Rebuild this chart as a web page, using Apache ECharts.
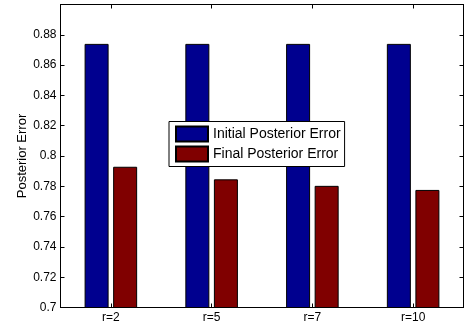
<!DOCTYPE html>
<html>
<head>
<meta charset="utf-8">
<script src="https://cdn.jsdelivr.net/npm/echarts@6/dist/echarts.min.js"></script>
<style>html,body{margin:0;padding:0;background:#fff;}#c{width:466px;height:327px;}</style>
</head>
<body>
<div id="c"></div>
<script>
var categories = ['r=2', 'r=5', 'r=7', 'r=10'];
var initialError = [0.874, 0.874, 0.874, 0.874];
var finalError = [0.7929, 0.7846, 0.7803, 0.7776];
var yMin = 0.7, yMax = 0.9, yStep = 0.02;
var seriesNames = ['Initial Posterior Error', 'Final Posterior Error'];
var yName = 'Posterior Error';

var FONT = 'Liberation Sans, Arial, Helvetica, sans-serif';
var chart = echarts.init(document.getElementById('c'));
var axisLine = { show: true, onZero: false, lineStyle: { color: '#000', width: 1 } };
chart.setOption({
  animation: false,
  backgroundColor: '#fff',
  grid: { left: 60.5, right: 2.5, top: 4.5, bottom: 19.5, containLabel: false },
  legend: {
    orient: 'vertical',
    left: 169, top: 121.5,
    padding: [4, 4, 4, 6],
    icon: 'rect',
    itemWidth: 32, itemHeight: 15, itemGap: 3,
    backgroundColor: '#fff',
    borderColor: '#000', borderWidth: 1, borderRadius: 0,
    textStyle: { fontFamily: FONT, fontSize: 14, color: '#000' },
    data: seriesNames
  },
  xAxis: [{
    type: 'category', data: categories, position: 'bottom', boundaryGap: true,
    axisLine: axisLine,
    axisTick: { show: true, inside: true, alignWithLabel: true, length: 4, lineStyle: { color: '#000' } },
    axisLabel: { fontFamily: FONT, fontSize: 12, color: '#000', margin: 4 },
    splitLine: { show: false }
  }, {
    type: 'category', data: categories, position: 'top', boundaryGap: true,
    axisLine: axisLine,
    axisTick: { show: true, inside: true, alignWithLabel: true, length: 4, lineStyle: { color: '#000' } },
    axisLabel: { show: false }, splitLine: { show: false }
  }],
  yAxis: [{
    type: 'value', min: yMin, max: yMax, interval: yStep, position: 'left',
    name: yName, nameLocation: 'middle', nameGap: 32, nameRotate: 90,
    nameMoveOverlap: false,
    nameTextStyle: { fontFamily: FONT, fontSize: 13, color: '#000' },
    axisLine: axisLine,
    axisTick: { show: true, inside: true, length: 4, lineStyle: { color: '#000' } },
    axisLabel: { fontFamily: FONT, fontSize: 12, color: '#000', margin: 4, showMaxLabel: false },
    splitLine: { show: false }
  }, {
    type: 'value', min: yMin, max: yMax, interval: yStep, position: 'right',
    axisLine: axisLine,
    axisTick: { show: true, inside: true, length: 4, lineStyle: { color: '#000' } },
    axisLabel: { show: false }, splitLine: { show: false }
  }],
  series: [{
    name: seriesNames[0], type: 'bar', data: initialError,
    barWidth: 24, barGap: '19%',
    itemStyle: { color: '#00008F', borderColor: '#000', borderWidth: 1 }
  }, {
    name: seriesNames[1], type: 'bar', data: finalError,
    barWidth: 24, barGap: '19%',
    itemStyle: { color: '#800000', borderColor: '#000', borderWidth: 1 }
  }]
});
</script>
</body>
</html>
